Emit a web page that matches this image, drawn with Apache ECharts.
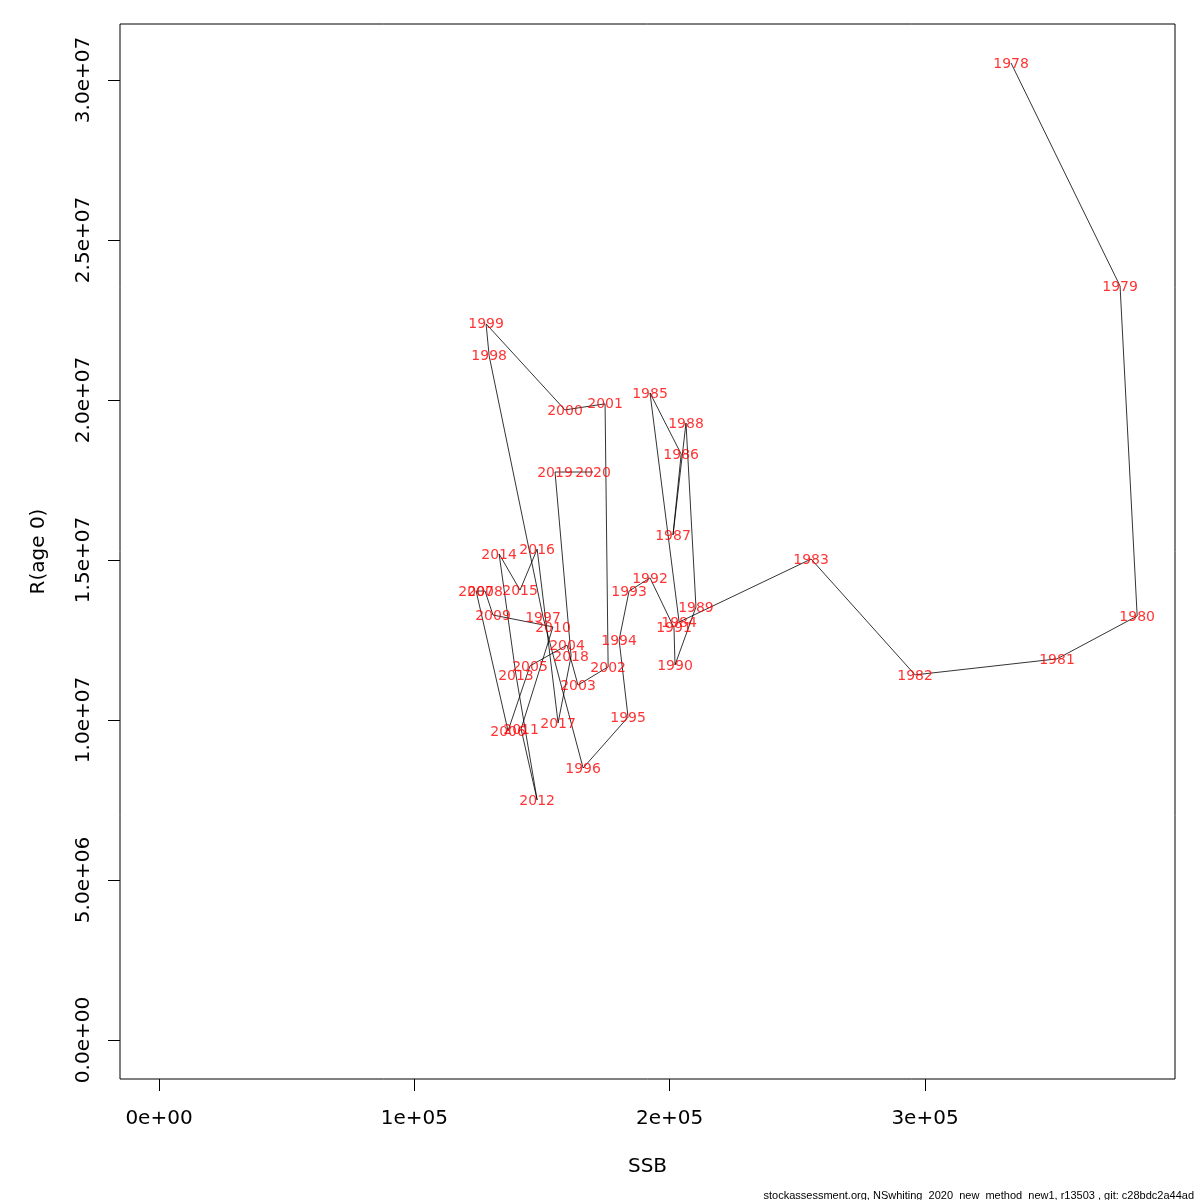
<!DOCTYPE html>
<html>
<head>
<meta charset="utf-8">
<script src="https://cdn.jsdelivr.net/npm/echarts@6/dist/echarts.min.js"></script>
<style>html,body{margin:0;padding:0;background:#fff}#c{width:1200px;height:1200px}</style>
</head>
<body>
<div id="c"></div>
<script>
const years = [1978,1979,1980,1981,1982,1983,1984,1985,1986,1987,1988,1989,1990,1991,1992,1993,1994,1995,1996,1997,1998,1999,2000,2001,2002,2003,2004,2005,2006,2007,2008,2009,2010,2011,2012,2013,2014,2015,2016,2017,2018,2019,2020];
const ssb = [333700,376400,383100,351700,296100,255400,203700,192300,204500,201300,206400,210300,202100,201700,192300,184100,180200,183700,166100,150400,129300,128100,159000,174700,175900,164100,159800,145300,136700,124200,127700,130800,154300,141800,148100,139800,133200,141400,148100,156300,161400,155100,170000];
const recruits = [30.53e6,23.56e6,13.25e6,11.91e6,11.41e6,15.03e6,13.06e6,20.22e6,18.31e6,15.78e6,19.28e6,13.53e6,11.72e6,12.88e6,14.44e6,14.03e6,12.5e6,10.09e6,8.5e6,13.22e6,21.38e6,22.38e6,19.69e6,19.88e6,11.66e6,11.09e6,12.34e6,11.69e6,9.66e6,14.03e6,14.03e6,13.28e6,12.91e6,9.72e6,7.5e6,11.41e6,15.19e6,14.06e6,15.34e6,9.91e6,12.0e6,17.75e6,17.75e6];
const xTicks = [0,100000,200000,300000];
const xTickLabels = ['0e+00','1e+05','2e+05','3e+05'];
const yTicks = [0,5e6,10e6,15e6,20e6,25e6,30e6];
const yTickLabels = ['0.0e+00','5.0e+06','1.0e+07','1.5e+07','2.0e+07','2.5e+07','3.0e+07'];

const pts = years.map((y,i)=>[ssb[i],recruits[i],y]);
const font = 'DejaVu Sans';
const chart = echarts.init(document.getElementById('c'));
chart.setOption({
  animation:false,
  backgroundColor:'#fff',
  grid:{left:120,right:25,top:24,bottom:121,show:true,borderColor:'#000',borderWidth:1,backgroundColor:'transparent'},
  xAxis:{type:'value',min:-15274,max:397911,
    name:'SSB',nameLocation:'middle',nameGap:78,nameTextStyle:{fontFamily:font,fontSize:20,color:'#000'},
    axisLine:{show:false,onZero:false},splitLine:{show:false},
    axisTick:{show:true,inside:false,length:12,customValues:xTicks,lineStyle:{color:'#000',width:1}},
    axisLabel:{customValues:xTicks,margin:30,fontFamily:font,fontSize:20,color:'#000',
      formatter:v=>{const i=xTicks.indexOf(v);return i>=0?xTickLabels[i]:'';}}},
  yAxis:{type:'value',min:-1218750,max:31750000,
    name:'R(age 0)',nameLocation:'middle',nameGap:71,nameTextStyle:{fontFamily:font,fontSize:20,color:'#000'},
    axisLine:{show:false,onZero:false},splitLine:{show:false},
    axisTick:{show:true,inside:false,length:12,customValues:yTicks,lineStyle:{color:'#000',width:1}},
    axisLabel:{customValues:yTicks,rotate:90,margin:26,fontFamily:font,fontSize:20,color:'#000',
      formatter:v=>{const i=yTicks.indexOf(v);return i>=0?yTickLabels[i]:'';}}},
  series:[
    {type:'line',data:pts.map(p=>[p[0],p[1]]),showSymbol:false,symbol:'none',lineStyle:{color:'#000',width:0.8},silent:true,z:2},
    {type:'scatter',data:pts,symbol:'circle',symbolSize:2,itemStyle:{color:'rgba(0,0,0,0)'},z:3,silent:true,
      label:{show:true,position:'inside',offset:[0,1],formatter:p=>String(p.data[2]),color:'#ff0000',fontFamily:font,fontSize:14}}
  ],
  graphic:[{type:'text',right:6,bottom:-1,style:{text:'stockassessment.org, NSwhiting_2020_new_method_new1, r13503 , git: c28bdc2a44ad',fontFamily:'Liberation Sans',fontSize:11,fill:'#000'}}]
});
</script>
</body>
</html>
